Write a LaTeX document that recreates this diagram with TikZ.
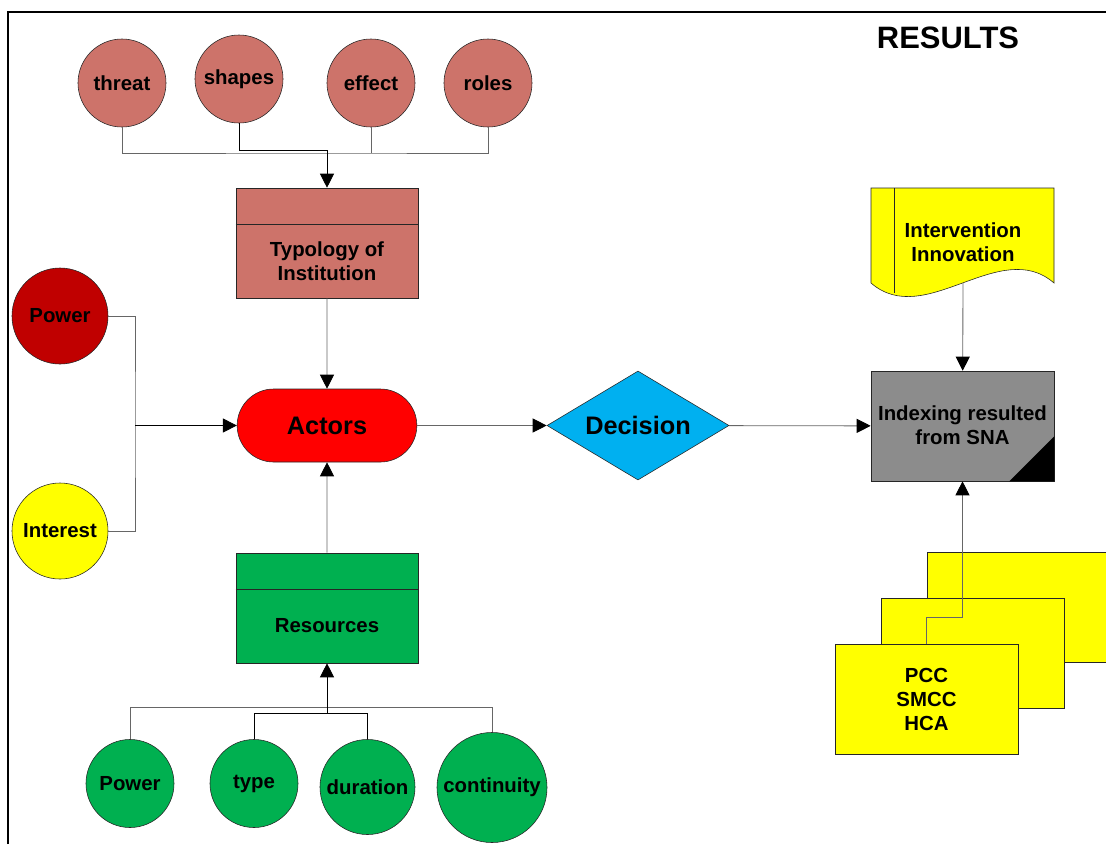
\documentclass[tikz,border=0pt]{standalone}
\usepackage{fontspec}
\setmainfont{Liberation Sans}
\usetikzlibrary{arrows.meta,shapes.geometric,shapes.misc}

\definecolor{salmon}{RGB}{205,115,106}
\definecolor{darkred}{RGB}{192,0,0}
\definecolor{leafgreen}{RGB}{0,176,80}
\definecolor{skyblue}{RGB}{0,176,240}
\definecolor{boxgray}{RGB}{140,140,140}
\definecolor{lemon}{RGB}{255,255,0}

\tikzset{
  bubble/.style={circle, draw=black!85, inner sep=0pt},
  card/.style={rectangle, draw=black!85, minimum width=4.55cm, minimum height=2.75cm},
  link/.style={draw=black!60, line width=0.6pt},
  arr/.style={link, -{Triangle[length=10pt,width=10pt,color=black]}},
  bigtext/.style={font=\bfseries\fontsize{18}{21}\selectfont}
}

\begin{document}
\begin{tikzpicture}[x=0.025cm, y=-0.025cm, font=\bfseries\fontsize{14.5}{17}\selectfont]
\useasboundingbox (0,0) rectangle (1106,844);
\draw[line width=1.3pt] (8,844) -- (8,12) -- (1106,12);

\node[font=\bfseries\fontsize{22}{26}\selectfont] (results) at (948,38) {RESULTS};

\node[bubble, fill=salmon, minimum size=2.2cm] (threat) at (122,83) {threat};
\node[bubble, fill=salmon, minimum size=2.2cm] (shapes) at (239,79) {shapes};
\node[bubble, fill=salmon, minimum size=2.2cm] (effect) at (371,83) {effect};
\node[bubble, fill=salmon, minimum size=2.2cm] (roles) at (488,83) {roles};

\node[card, fill=salmon] (typology) at (327,243) {};
\draw[black!85] ([yshift=-0.925cm]typology.north west) -- ([yshift=-0.925cm]typology.north east);
\node[align=center] (typtext) at (327,261) {Typology of\\Institution};

\node[rounded rectangle, draw=black!85, fill=red, minimum width=4.725cm, minimum height=1.825cm, bigtext] (actors) at (327,425.5) {Actors};

\node[bubble, fill=darkred, minimum size=2.4cm] (power) at (60,316) {Power};
\node[bubble, fill=lemon, minimum size=2.4cm] (interest) at (60,531) {Interest};

\node[card, fill=leafgreen] (resources) at (327,608) {};
\draw[black!85] ([yshift=-0.925cm]resources.north west) -- ([yshift=-0.925cm]resources.north east);
\node (restext) at (327,626) {Resources};

\node[bubble, fill=leafgreen, minimum size=2.2cm] (bpower) at (130,783.5) {Power};
\node[bubble, fill=leafgreen, minimum size=2.2cm] (type) at (254,783.5) {type};
\node[bubble, fill=leafgreen, minimum size=2.375cm] (duration) at (367.5,787) {duration};
\node[bubble, fill=leafgreen, minimum size=2.75cm] (continuity) at (492,787.5) {continuity};

\node[diamond, draw=black!85, fill=skyblue, inner sep=0pt, aspect=1.67, minimum width=4.55cm, minimum height=2.725cm, bigtext] (decision) at (638,425.5) {Decision};

\node[card, fill=boxgray, minimum width=4.575cm] (index) at (962.5,426) {};
\fill[black] (index.south east) -- ([xshift=-1.125cm]index.south east) -- ([yshift=1.125cm]index.south east) -- cycle;
\node[align=center] (indextext) at (962.5,425) {Indexing resulted\\from SNA};

\filldraw[fill=lemon, draw=black!85] (871,188) -- (1054,188) -- (1054,283)
  .. controls (1000,236) and (925,330) .. (871,283) -- cycle;
\draw[black!85] (894,188) -- (894,293);
\node[align=center] (interv) at (963,242) {Intervention\\Innovation};
\coordinate (docbottom) at (963,283);

\node[card, fill=lemon, minimum width=4.575cm] (backcard) at (1018.5,607) {};
\node[card, fill=lemon, minimum width=4.575cm] (midcard) at (972.5,653.5) {};
\node[card, fill=lemon, minimum width=4.575cm, align=center] (frontcard) at (926.5,699.5) {PCC\\SMCC\\HCA};

\coordinate (topjoin) at (327,153);
\coordinate (shapesjoin) at (327,150);
\coordinate (pijoin) at (135,425.5);
\coordinate (botjoin) at (327,713);
\coordinate (botline) at (327,707);

\draw[link] (threat.south) |- (topjoin) -| (roles.south);
\draw[link] (effect.south) -- (effect.south |- topjoin);
\draw[link, black] (shapes.south) |- (shapesjoin);
\draw[arr, black] (shapesjoin) -- (typology.north);
\draw[arr] (typology) -- (actors);

\draw[link] (power) -| (pijoin) |- (interest);
\draw[arr, black] (pijoin) -- (actors);

\draw[link] (bpower.north) |- (botline) -| (continuity.north);
\draw[link, black] (type.north) |- (botjoin) -| (duration.north);
\draw[arr, black] (botjoin) -- (resources.south);
\draw[arr] (resources) -- (actors);

\draw[arr] (actors) -- (decision);
\draw[arr] (decision) -- (index);
\draw[arr] (docbottom) -- (index);
\draw[arr] (frontcard.north) -- ++(0,-27) -| (index.south);
\end{tikzpicture}
\end{document}
